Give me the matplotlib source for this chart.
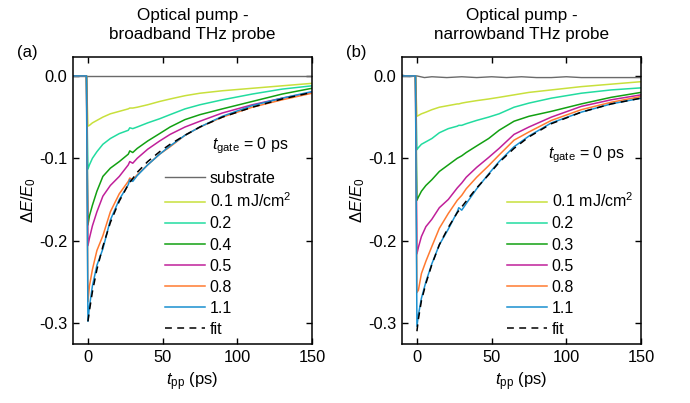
import matplotlib
matplotlib.use("Agg")
import matplotlib.pyplot as plt

plt.rcParams['font.family'] = ['Liberation Sans', 'DejaVu Sans']
plt.rcParams['mathtext.fontset'] = 'custom'
plt.rcParams['mathtext.rm'] = 'Liberation Sans'
plt.rcParams['mathtext.it'] = 'Liberation Sans:italic'
plt.rcParams['mathtext.bf'] = 'Liberation Sans:bold'
plt.rcParams['axes.unicode_minus'] = False

# ---------------- data ----------------
t = [-10, -1, 0, 1, 3, 6, 10, 15, 21, 27, 28, 30, 33, 40, 48, 55, 65, 75, 90, 110, 130, 150]
t_fit = [0, 1, 3, 6, 10, 15, 21, 27, 33, 40, 48, 55, 65, 75, 90, 110, 130, 150]
t_sub = [-10, -5, 0, 5, 10, 20, 30, 40, 50, 60, 70, 80, 90, 100, 110, 120, 130, 140, 150]

# panel (a): broadband probe
a_sub = [0.000, 0.000, 0.000, 0.000, 0.000, 0.000, 0.000, 0.000, 0.000, 0.000,
         0.000, 0.000, 0.000, 0.000, 0.000, 0.000, 0.000, 0.000, 0.000]
a_01 = [0, 0, -0.061, -0.060, -0.057, -0.054, -0.050, -0.046, -0.043, -0.040, -0.039, -0.039,
        -0.038, -0.035, -0.031, -0.028, -0.024, -0.021, -0.018, -0.015, -0.012, -0.009]
a_02 = [0, 0, -0.113, -0.108, -0.100, -0.092, -0.083, -0.076, -0.070, -0.066, -0.063, -0.064,
        -0.062, -0.057, -0.052, -0.047, -0.040, -0.035, -0.029, -0.022, -0.016, -0.012]
a_04 = [0, 0, -0.181, -0.170, -0.157, -0.140, -0.122, -0.112, -0.104, -0.095, -0.091, -0.093,
        -0.088, -0.079, -0.070, -0.062, -0.053, -0.047, -0.040, -0.031, -0.022, -0.015]
a_05 = [0, 0, -0.206, -0.197, -0.182, -0.165, -0.146, -0.133, -0.122, -0.108, -0.104, -0.106,
        -0.100, -0.089, -0.079, -0.071, -0.062, -0.055, -0.045, -0.035, -0.027, -0.020]
a_08 = [0, 0, -0.274, -0.255, -0.235, -0.212, -0.194, -0.165, -0.143, -0.128, -0.124, -0.126,
        -0.120, -0.108, -0.095, -0.086, -0.072, -0.062, -0.050, -0.038, -0.029, -0.021]
a_11 = [0, 0, -0.298, -0.280, -0.255, -0.230, -0.210, -0.175, -0.150, -0.132, -0.126, -0.128,
        -0.121, -0.108, -0.095, -0.085, -0.072, -0.062, -0.049, -0.036, -0.027, -0.019]
a_fit = [-0.298, -0.285, -0.262, -0.235, -0.207, -0.178, -0.152, -0.132, -0.117, -0.104,
         -0.092, -0.083, -0.072, -0.062, -0.050, -0.038, -0.028, -0.020]

# panel (b): narrowband probe
b_sub = [0.001, -0.001, 0.000, -0.002, -0.001, -0.002, -0.001, -0.002, -0.001, -0.002,
         -0.001, -0.002, -0.002, -0.001, -0.002, -0.002, -0.002, -0.002, -0.002]
b_01 = [0, 0, -0.049, -0.048, -0.046, -0.044, -0.041, -0.038, -0.036, -0.034, -0.034, -0.033,
        -0.032, -0.030, -0.028, -0.026, -0.023, -0.020, -0.017, -0.013, -0.010, -0.007]
b_02 = [0, 0, -0.0895, -0.087, -0.083, -0.080, -0.076, -0.069, -0.064, -0.061, -0.060, -0.060,
        -0.058, -0.054, -0.050, -0.046, -0.038, -0.033, -0.027, -0.021, -0.017, -0.0145]
b_03 = [0, 0, -0.151, -0.147, -0.140, -0.133, -0.126, -0.116, -0.108, -0.100, -0.099, -0.097,
        -0.093, -0.085, -0.076, -0.066, -0.055, -0.049, -0.043, -0.034, -0.026, -0.020]
b_05 = [0, 0, -0.216, -0.208, -0.195, -0.183, -0.174, -0.160, -0.150, -0.136, -0.134, -0.130,
        -0.123, -0.111, -0.099, -0.088, -0.071, -0.062, -0.050, -0.037, -0.029, -0.023]
b_08 = [0, 0, -0.263, -0.260, -0.240, -0.225, -0.207, -0.185, -0.167, -0.151, -0.149, -0.145,
        -0.137, -0.123, -0.109, -0.096, -0.078, -0.068, -0.054, -0.041, -0.032, -0.025]
b_11 = [0, 0, -0.304, -0.290, -0.270, -0.250, -0.228, -0.205, -0.186, -0.165, -0.160, -0.163,
        -0.155, -0.137, -0.119, -0.104, -0.086, -0.073, -0.057, -0.044, -0.034, -0.027]
b_fit = [-0.310, -0.295, -0.273, -0.252, -0.229, -0.205, -0.184, -0.166, -0.152, -0.136,
         -0.120, -0.105, -0.088, -0.074, -0.058, -0.044, -0.034, -0.027]

a_labels = ['0.1 mJ/cm$^2$', '0.2', '0.4', '0.5', '0.8', '1.1']
b_labels = ['0.1 mJ/cm$^2$', '0.2', '0.3', '0.5', '0.8', '1.1']
colors = ['#c8e03c', '#22dca0', '#12a012', '#c0209a', '#ff7a30', '#1a90d0']
sub_color = '#6a6a6a'

x_ticks = [0, 50, 100, 150]
y_ticks = [-0.3, -0.2, -0.1, 0.0]
y_ticklabels = ['-0.3', '-0.2', '-0.1', '0.0']

fig = plt.figure(figsize=(6.9, 4.03), dpi=100)
axa = fig.add_axes([0.1058, 0.1464, 0.3464, 0.7122])
axb = fig.add_axes([0.5826, 0.1464, 0.3464, 0.7122])

FS = 11.5

def draw(ax, sub, series, labels, fit, title, sub_in_legend, lx, tx, ty, tag):
    h_sub, = ax.plot(t_sub, sub, color=sub_color, lw=1.0)
    handles = [h_sub] if sub_in_legend else []
    labs = ['substrate'] if sub_in_legend else []
    for y, c, l in zip(series, colors, labels):
        h, = ax.plot(t, y, color=c, lw=1.1)
        handles.append(h)
        labs.append(l)
    hf, = ax.plot(t_fit, fit, color='black', lw=1.1, ls=(0, (4.5, 3.5)))
    handles.append(hf)
    labs.append('fit')
    ax.set_xlim(-10, 150)
    ax.set_ylim(-0.3255, 0.023)
    ax.set_xticks(x_ticks)
    ax.set_yticks(y_ticks)
    ax.set_yticklabels(y_ticklabels)
    ax.tick_params(direction='in', top=True, right=True, length=4.5, width=1.0,
                   labelsize=FS + 0.3, pad=4)
    for s in ax.spines.values():
        s.set_linewidth(1.1)
    ax.set_xlabel(r'$t_{\mathrm{pp}}$ (ps)', fontsize=FS + 0.5, labelpad=4)
    ax.set_ylabel(r'$\Delta E/E_0$', fontsize=FS + 0.5, labelpad=1)
    ax.set_title(title, fontsize=FS + 0.8, linespacing=1.3, pad=13)
    ax.text(tx, ty, r'$t_{\mathrm{gate}}$ = 0 ps', transform=ax.transAxes,
            fontsize=FS, ha='left', va='center')
    ax.text(-0.235, 1.017, tag, transform=ax.transAxes, fontsize=FS + 0.5,
            ha='left', va='center')
    ax.legend(handles, labs, loc='lower left', bbox_to_anchor=(lx, 0.025),
              frameon=False, fontsize=FS, handlelength=2.5, handletextpad=0.3,
              labelspacing=0.38, borderpad=0, borderaxespad=0)

draw(axa, a_sub, [a_01, a_02, a_04, a_05, a_08, a_11], a_labels, a_fit,
     'Optical pump -\nbroadband THz probe', True, 0.385, 0.58, 0.69, '(a)')
draw(axb, b_sub, [b_01, b_02, b_03, b_05, b_08, b_11], b_labels, b_fit,
     'Optical pump -\nnarrowband THz probe', False, 0.439, 0.61, 0.66, '(b)')

fig.savefig('out.png', dpi=100)
